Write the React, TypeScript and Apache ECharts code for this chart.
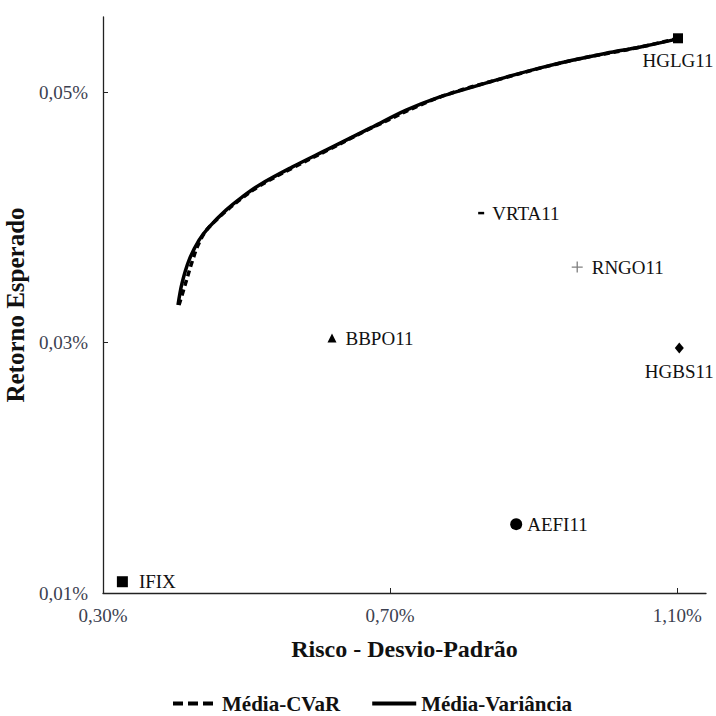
import React, { useEffect, useRef } from "react";
import * as echarts from "echarts";

const FONT = "Liberation Serif, Times New Roman, Times, serif";

// Efficient frontier: Média-Variância (risk %, return %)
const mvRisk = [0.4045, 0.4101, 0.4199, 0.4338, 0.4477, 0.4714, 0.4937, 0.5174, 0.5634, 0.6108, 0.6749, 0.7223, 0.7683, 0.8143, 0.8617, 0.9077, 0.9536, 1.001, 1.047, 1.093, 1.101];
const mvReturn = [0.033, 0.03475, 0.03659, 0.03818, 0.03922, 0.04058, 0.04162, 0.04257, 0.04401, 0.04537, 0.0472, 0.04856, 0.0496, 0.0504, 0.0512, 0.05192, 0.05255, 0.05311, 0.05359, 0.05415, 0.0543];

// Efficient frontier: Média-CVaR
const cvarRisk = [0.4059, 0.4143, 0.424, 0.4324, 0.4421, 0.4547, 0.4714, 0.4937, 0.5174, 0.5634, 0.6108, 0.6749, 0.7683, 0.8617, 0.9536, 1.047, 1.101];
const cvarReturn = [0.033, 0.03459, 0.03643, 0.03778, 0.03882, 0.03962, 0.0405, 0.04154, 0.04249, 0.04393, 0.0453, 0.04716, 0.04958, 0.05118, 0.05254, 0.05358, 0.0543];

// Individual assets
const assetNames = ["HGLG11", "VRTA11", "RNGO11", "HGBS11", "BBPO11", "AEFI11", "IFIX"];
const assetRisk = [1.101, 0.8268, 0.9606, 1.1028, 0.619, 0.8756, 0.327];
const assetReturn = [0.0543, 0.04034, 0.03603, 0.02956, 0.03036, 0.0155, 0.0109];

const xTicks = [0.3, 0.7, 1.1];
const yTicks = [0.01, 0.03, 0.05];

const seriesNames = ["Média-CVaR", "Média-Variância"];

const PLUS = "path://M4.4,0H5.6V4.4H10V5.6H5.6V10H4.4V5.6H0V4.4H4.4Z";

const markerStyle: Record<string, any> = {
  HGLG11: { symbol: "rect", symbolSize: 10, color: "#000", pos: "bottom", dist: 8 },
  VRTA11: { symbol: "rect", symbolSize: [6, 2.5], color: "#000", pos: "right", dist: 8 },
  RNGO11: { symbol: PLUS, symbolSize: 11, color: "#808080", pos: "right", dist: 9 },
  HGBS11: { symbol: "diamond", symbolSize: [9, 11], color: "#000", pos: "bottom", dist: 8 },
  BBPO11: { symbol: "triangle", symbolSize: [9, 9], color: "#000", pos: "right", dist: 9 },
  AEFI11: { symbol: "circle", symbolSize: 12, color: "#000", pos: "right", dist: 5 },
  IFIX: { symbol: "rect", symbolSize: 11, color: "#000", pos: "right", dist: 11 },
};

const fmt = (v: number) => v.toFixed(2).replace(".", ",") + "%";

export default function App() {
  const ref = useRef<HTMLDivElement>(null);
  useEffect(() => {
    if (!ref.current) return;
    const chart = echarts.init(ref.current, undefined, { renderer: "svg" });

    const mvData = mvRisk.map((x, i) => [x, mvReturn[i]]);
    const cvarData = cvarRisk.map((x, i) => [x, cvarReturn[i]]);
    const assetData = assetNames.map((n, i) => {
      const s = markerStyle[n];
      return {
        name: n,
        value: [assetRisk[i], assetReturn[i]],
        symbol: s.symbol,
        symbolSize: s.symbolSize,
        itemStyle: { color: s.color, opacity: 1 },
        label: { position: s.pos, distance: s.dist },
      };
    });

    chart.setOption({
      animation: false,
      backgroundColor: "#fff",
      textStyle: { fontFamily: FONT },
      grid: {
        left: 103,
        right: 10,
        top: 17,
        bottom: 123,
        containLabel: false,
        outerBoundsMode: "none",
      },
      legend: {
        data: [
          { name: seriesNames[0], lineStyle: { type: [10, 5], width: 4 }, itemStyle: { opacity: 0 } },
          { name: seriesNames[1], lineStyle: { width: 4 }, itemStyle: { opacity: 0 } },
        ],
        left: 166,
        top: 688,
        itemWidth: 44,
        itemHeight: 6,
        itemGap: 30,
        textStyle: { fontFamily: FONT, fontSize: 21, fontWeight: "bold", color: "#111" },
      },
      xAxis: {
        type: "value",
        min: 0.3,
        max: 1.14,
        name: "Risco - Desvio-Padrão",
        nameLocation: "middle",
        nameGap: 44,
        nameTextStyle: { fontFamily: FONT, fontSize: 24, fontWeight: "bold", color: "#111" },
        axisLine: { show: true, lineStyle: { color: "#222", width: 1.3 } },
        axisTick: { show: true, inside: true, length: 5, customValues: xTicks, lineStyle: { color: "#222" } },
        axisLabel: {
          customValues: xTicks,
          formatter: fmt,
          margin: 13,
          fontFamily: FONT,
          fontSize: 19,
          color: "#3c4150",
        },
        splitLine: { show: false },
      },
      yAxis: {
        type: "value",
        min: 0.01,
        max: 0.056,
        name: "Retorno Esperado",
        nameLocation: "middle",
        nameGap: 66,
        nameTextStyle: { fontFamily: FONT, fontSize: 25, fontWeight: "bold", color: "#111" },
        axisLine: { show: true, lineStyle: { color: "#222", width: 1.3 } },
        axisTick: { show: true, inside: true, length: 5, customValues: yTicks.slice(1), lineStyle: { color: "#222" } },
        axisLabel: {
          customValues: yTicks,
          formatter: fmt,
          margin: 15,
          fontFamily: FONT,
          fontSize: 19,
          color: "#3c4150",
        },
        splitLine: { show: false },
      },
      series: [
        {
          name: seriesNames[0],
          type: "line",
          data: cvarData,
          symbol: "none",
          smooth: 0.35,
          itemStyle: { color: "#000" },
          lineStyle: { color: "#000", width: 3.5, type: [6, 4] },
          z: 2,
        },
        {
          name: seriesNames[1],
          type: "line",
          data: mvData,
          symbol: "none",
          smooth: 0.35,
          itemStyle: { color: "#000" },
          lineStyle: { color: "#000", width: 3.5 },
          z: 3,
        },
        {
          name: "Ativos",
          type: "scatter",
          data: assetData,
          z: 4,
          label: {
            show: true,
            formatter: (p: any) => p.name,
            fontFamily: FONT,
            fontSize: 19,
            color: "#111",
          },
        },
      ],
    });
    return () => chart.dispose();
  }, []);
  return (
    <div
      ref={ref}
      style={{ position: "fixed", left: 0, top: 0, width: 716, height: 716, background: "#fff" }}
    />
  );
}
